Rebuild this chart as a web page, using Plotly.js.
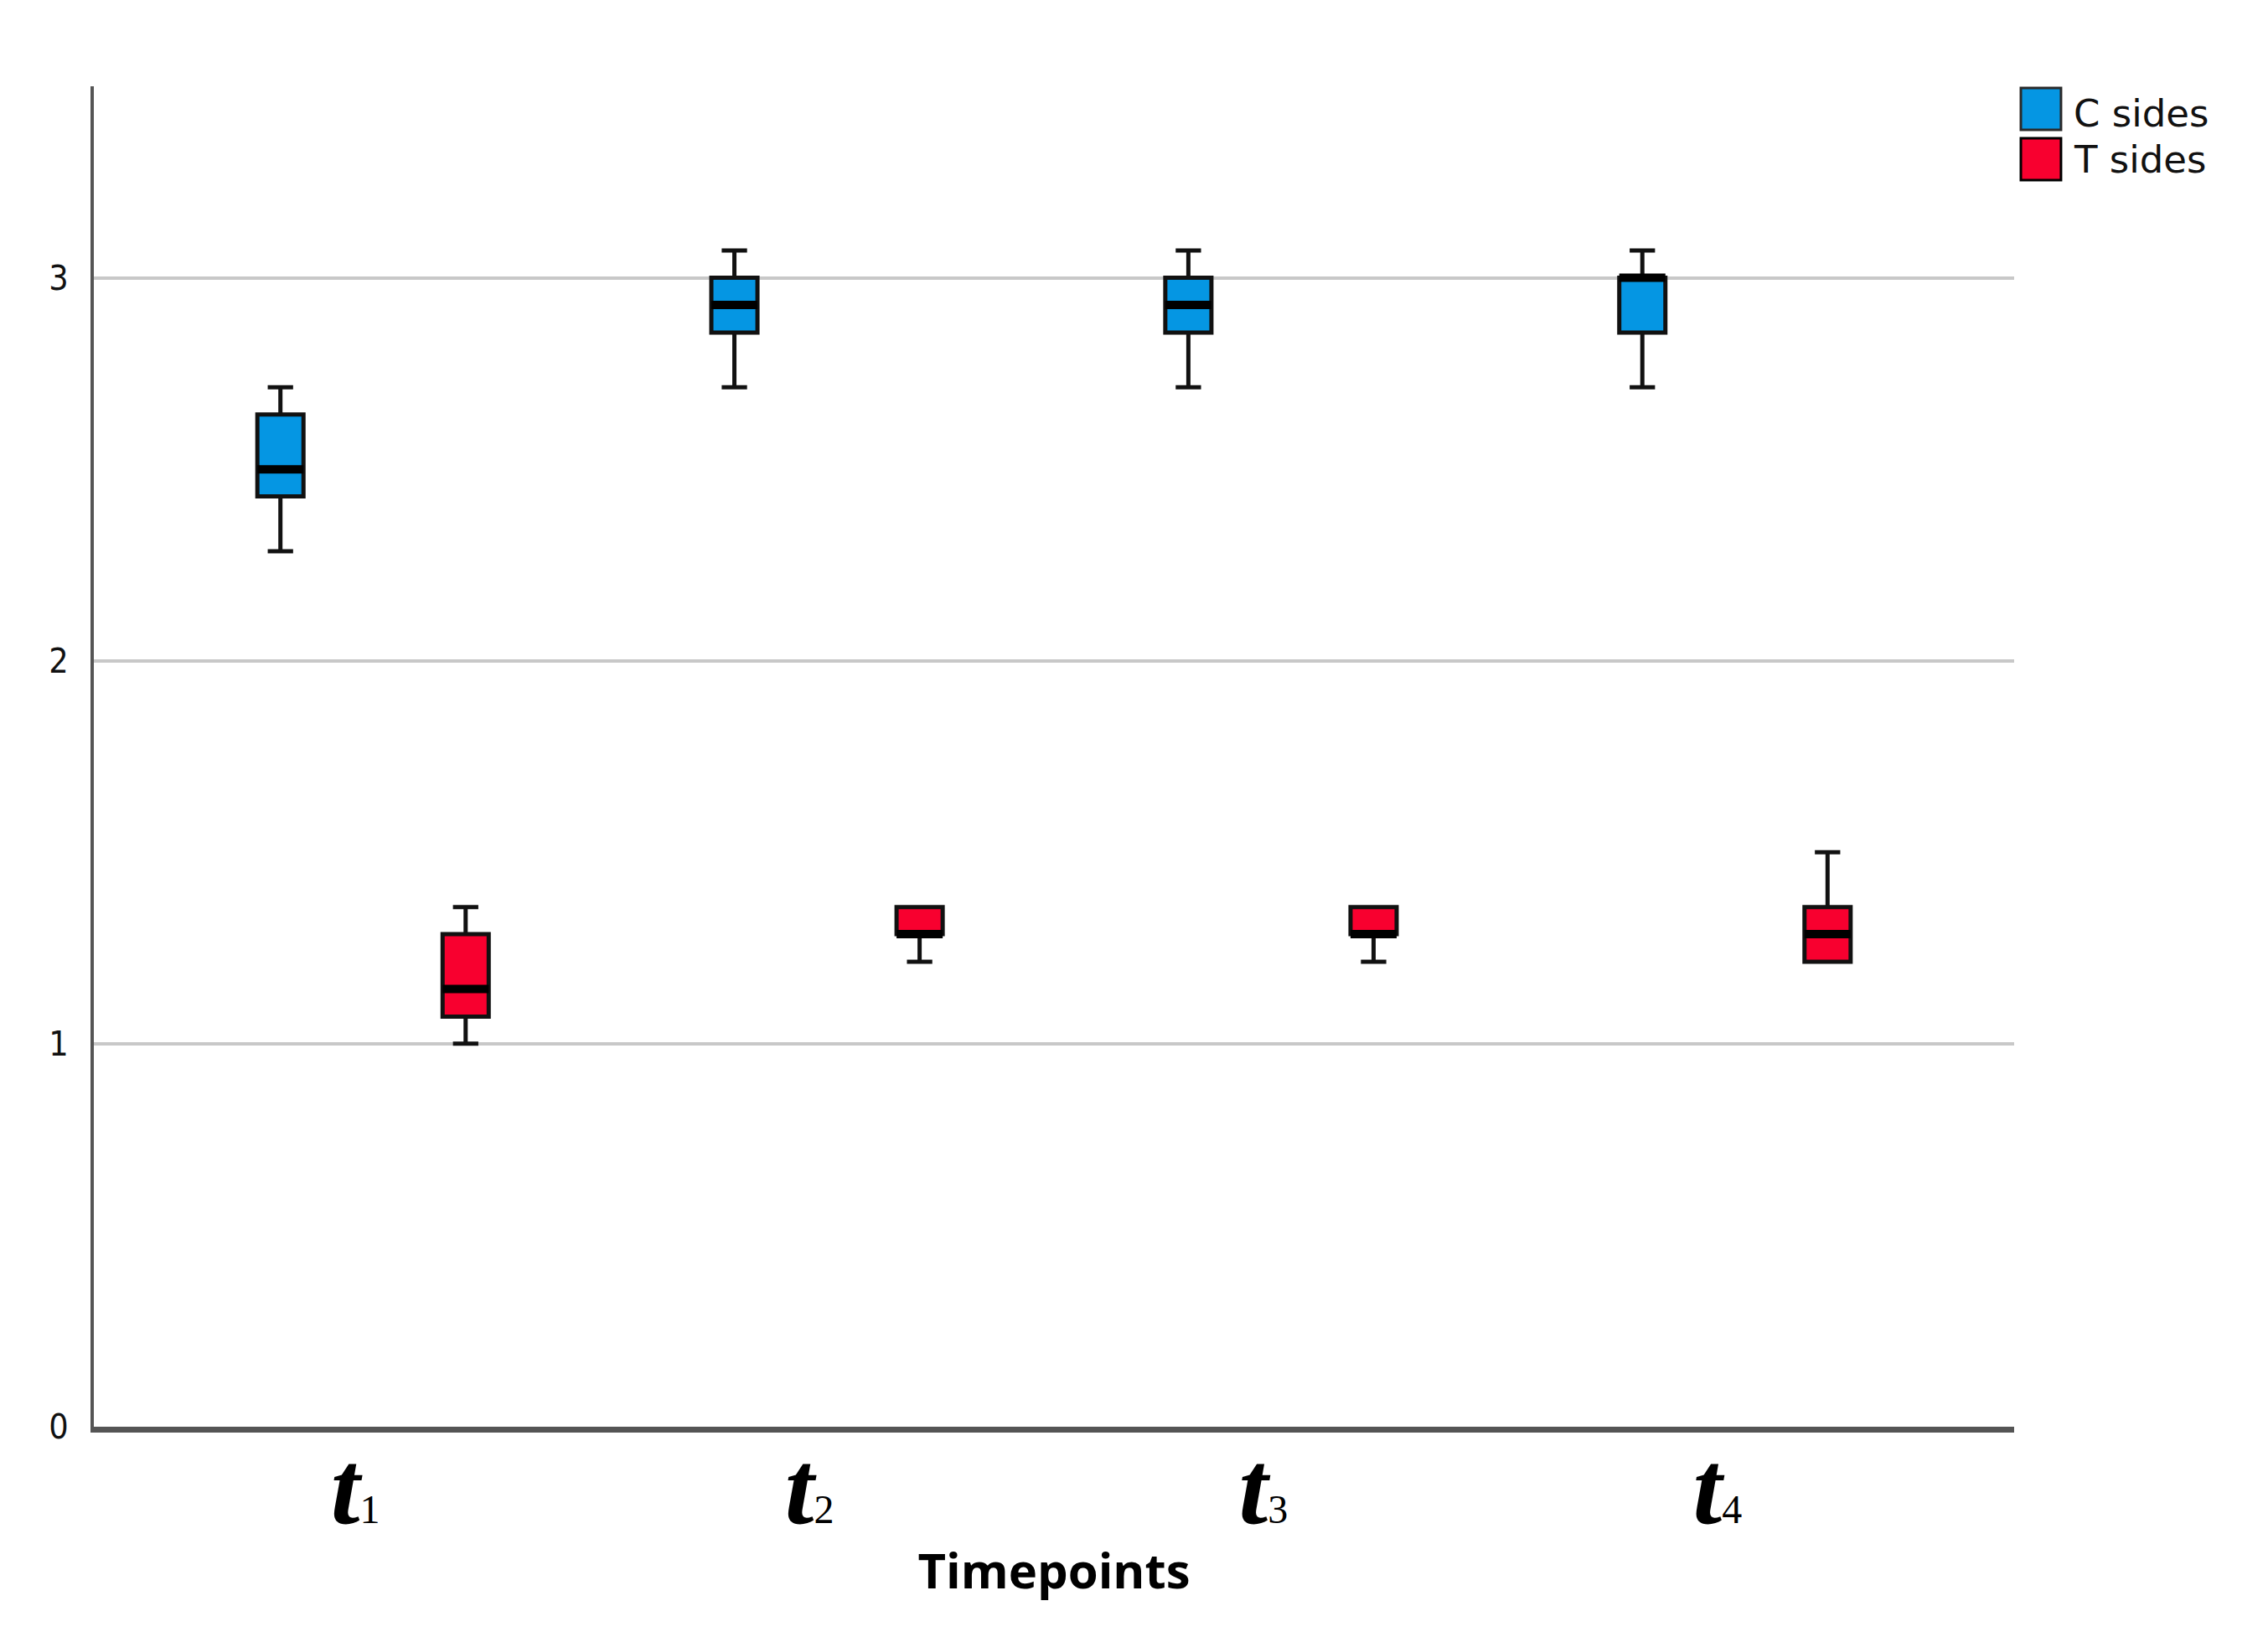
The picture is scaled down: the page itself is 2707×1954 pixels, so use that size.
<!DOCTYPE html>
<html>
<head>
<meta charset="utf-8">
<script src="https://cdn.plot.ly/plotly-3.0.1.min.js"></script>
<style>html,body{margin:0;padding:0;background:#fff;}#chart{width:2707px;height:1954px;}</style>
</head>
<body>
<div id="chart"></div>
<script>
// Categories and tick labels
const categories = ['t1', 't2', 't3', 't4'];
const tickLabels = ['1', '2', '3', '4'];

// Series names
const seriesNames = ['C sides', 'T sides'];

// C sides box statistics
const cLower  = [2.286, 2.714, 2.714, 2.714];
const cQ1     = [2.429, 2.857, 2.857, 2.857];
const cMedian = [2.500, 2.929, 2.929, 3.000];
const cQ3     = [2.643, 3.000, 3.000, 3.000];
const cUpper  = [2.714, 3.071, 3.071, 3.071];

// T sides box statistics
const tLower  = [1.000, 1.214, 1.214, 1.214];
const tQ1     = [1.071, 1.286, 1.286, 1.214];
const tMedian = [1.143, 1.286, 1.286, 1.286];
const tQ3     = [1.286, 1.357, 1.357, 1.357];
const tUpper  = [1.357, 1.357, 1.357, 1.500];

const colors = ['#0596E3', '#F8002F'];
const groups = ['C', 'T'];
const outline = '#111111';

function boxTrace(name, group, color, lo, q1, med, q3, hi) {
  return {
    type: 'box',
    name: name,
    offsetgroup: group,
    x: categories,
    lowerfence: lo, q1: q1, median: med, q3: q3, upperfence: hi,
    fillcolor: color,
    line: {color: outline, width: 5},
    whiskerwidth: 0.55,
    boxpoints: false,
    showlegend: false,
    hoverinfo: 'skip'
  };
}

// thick median bar drawn as a zero-height box at the median value
function medianTrace(name, group, med) {
  return {
    type: 'box',
    name: name + ' median',
    offsetgroup: group,
    x: categories,
    lowerfence: med, q1: med, median: med, q3: med, upperfence: med,
    fillcolor: 'rgba(0,0,0,0)',
    line: {color: '#000000', width: 10},
    whiskerwidth: 0,
    boxpoints: false,
    showlegend: false,
    hoverinfo: 'skip'
  };
}

const data = [
  boxTrace(seriesNames[0], groups[0], colors[0], cLower, cQ1, cMedian, cQ3, cUpper),
  boxTrace(seriesNames[1], groups[1], colors[1], tLower, tQ1, tMedian, tQ3, tUpper),
  medianTrace(seriesNames[0], groups[0], cMedian),
  medianTrace(seriesNames[1], groups[1], tMedian)
];

const tickText = tickLabels.map(d =>
  '<b><i>t</i></b><span style="font-size:48px;font-family:\'Liberation Serif\',serif;">' + d + '</span>');

// Legend drawn as shapes + text in paper coordinates
const legendShapes = seriesNames.map((n, i) => ({
  type: 'rect', xref: 'paper', yref: 'paper',
  x0: 1.0035, x1: 1.0244,
  y0: 0.9987 - i * 0.0375, y1: 0.9675 - i * 0.0375,
  fillcolor: colors[i],
  line: {color: i === 0 ? '#2a2a2a' : '#000000', width: 3}
}));
const legendText = seriesNames.map((n, i) => ({
  xref: 'paper', yref: 'paper',
  x: 1.0301, y: 0.9795 - i * 0.034,
  xanchor: 'left', yanchor: 'middle',
  text: n, showarrow: false,
  font: {family: 'DejaVu Sans, sans-serif', size: 45, color: '#111'}
}));

const layout = {
  width: 2707, height: 1954,
  paper_bgcolor: '#ffffff', plot_bgcolor: '#ffffff',
  margin: {l: 112, r: 303, t: 103, b: 251},
  boxmode: 'group',
  boxgap: 0.184,
  boxgroupgap: 0.751,
  showlegend: false,
  xaxis: {
    type: 'category',
    categoryorder: 'array', categoryarray: categories,
    range: [-0.615, 3.615],
    tickvals: categories, ticktext: tickText,
    tickfont: {family: 'Liberation Serif, Times New Roman, serif', size: 125, color: '#000'},
    ticks: '', ticklabelstandoff: -42, ticklabelshift: -21,
    showgrid: false, zeroline: false,
    showline: true, linecolor: '#555555', linewidth: 7,
    title: {text: '<b>Timepoints</b>', font: {family: 'Open Sans, sans-serif', size: 58, color: '#000'}, standoff: 14},
    automargin: false
  },
  yaxis: {
    range: [0, 3.5],
    tickvals: [0, 1, 2, 3],
    ticktext: ['0', '1', '2', '3'],
    tickfont: {family: 'Liberation Sans Narrow, DejaVu Sans Condensed, Arial Narrow, sans-serif', size: 41, color: '#111'},
    ticks: '', ticklabelstandoff: 18,
    showgrid: true, gridcolor: '#c8c8c8', gridwidth: 4,
    zeroline: false,
    showline: true, linecolor: '#555555', linewidth: 4,
    automargin: false
  },
  shapes: legendShapes,
  annotations: legendText
};

Plotly.newPlot('chart', data, layout, {staticPlot: true, displayModeBar: false});
</script>
</body>
</html>
